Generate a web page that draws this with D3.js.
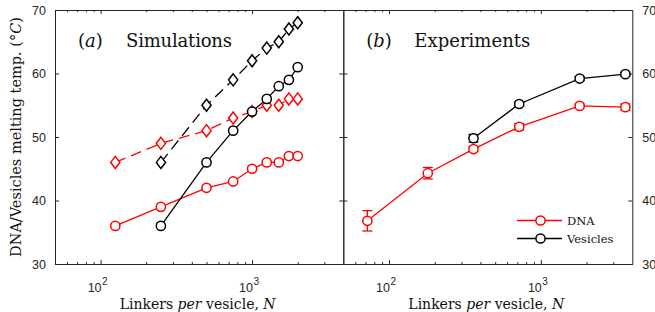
<!DOCTYPE html>
<html>
<head>
<meta charset="utf-8">
<script src="https://cdn.jsdelivr.net/npm/d3@7/dist/d3.min.js"></script>
<style>
  body { margin: 0; background: #fff; }
  svg { display: block; }
  .axis path, .axis line { stroke: #262626; stroke-width: 1; }
  .axis text { font-family: "Liberation Sans", Arial, sans-serif; font-size: 12.5px; fill: #262626; }
  .serif { font-family: "DejaVu Serif", serif; fill: #111; }
</style>
</head>
<body>
<div id="chart"></div>
<script>
// (a) Simulations
const simN = [125, 250, 500, 750, 1000, 1250, 1500, 1750, 2000];
const simDnaCircle = [36, 39, 42, 43, 45, 46, 46, 47, 47];
const simDnaDiamond = [46, 49, 51, 53, 54, 55, 55, 56, 56];
const simVesN = [250, 500, 750, 1000, 1250, 1500, 1750, 2000];
const simVesCircle = [36, 46, 51, 54, 56, 58, 59, 61];
const simVesDiamond = [46, 55, 59, 62, 64, 65, 67, 68];

// (b) Experiments
const expDnaN = [72, 180, 360, 720, 1800, 3600];
const expDna = [36.8, 44.3, 48.1, 51.6, 54.9, 54.7];
const expDnaErr = [1.6, 0.9, 0.4, 0.5, 0.3, 0.5];
const expVesN = [360, 720, 1800, 3600];
const expVes = [49.8, 55.2, 59.2, 59.9];
const expVesErr = [0.6, 0.3, 0.3, 0.3];

const yTicks = [30, 40, 50, 60, 70];
const xMajor = [100, 1000];
const xMinor = [60, 70, 80, 90, 200, 300, 400, 500, 600, 700, 800, 900, 2000, 3000];
const legendLabels = ["DNA", "Vesicles"];
const legendColors = ["#ff0000", "#000000"];

const W = 655, H = 312;
const plotTop = 10, plotBottom = 264;
const plotLeft = 55, plotMid = 343.3, plotRight = 632.3;

const svg = d3.select("#chart").append("svg")
  .attr("width", W)
  .attr("height", H);

const y = d3.scaleLinear()
  .domain([30, 70])
  .range([plotBottom, plotTop]);

const xa = d3.scaleLog().domain([50, 4000]).range([plotLeft, plotMid]);
const xb = d3.scaleLog().domain([50, 4000]).range([plotMid, plotRight]);

function serifText(sel) {
  return sel.append("text").attr("class", "serif");
}

function frame(x, x0, x1, labelLeft, labelRight) {
  const g = svg.append("g");

  // minor log ticks, top and bottom
  g.append("g").attr("class", "axis")
    .attr("transform", "translate(0," + plotBottom + ")")
    .call(d3.axisBottom(x).tickValues(xMinor).tickSize(-2).tickSizeOuter(0).tickFormat(""));
  g.append("g").attr("class", "axis")
    .attr("transform", "translate(0," + plotTop + ")")
    .call(d3.axisTop(x).tickValues(xMinor).tickSize(-2).tickSizeOuter(0).tickFormat(""));

  const bx = g.append("g").attr("class", "axis")
    .attr("transform", "translate(0," + plotBottom + ")")
    .call(d3.axisBottom(x).tickValues(xMajor).tickSize(-4).tickSizeOuter(0).tickFormat(""));
  g.append("g").attr("class", "axis")
    .attr("transform", "translate(0," + plotTop + ")")
    .call(d3.axisTop(x).tickValues(xMajor).tickSize(-4).tickSizeOuter(0).tickFormat(""));

  // 10^k labels, the "10" ends on the tick
  bx.selectAll(".tick text").remove();
  bx.selectAll(".tick").append("text")
    .attr("y", 28)
    .attr("x", 6.5)
    .attr("text-anchor", "end")
    .attr("fill", "#262626")
    .each(function (d) {
      const t = d3.select(this);
      t.append("tspan").text("10");
      t.append("tspan")
        .attr("dy", -7)
        .attr("dx", 0.5)
        .attr("font-size", "10px")
        .text(Math.round(Math.log10(d)));
    });

  g.append("g").attr("class", "axis")
    .attr("transform", "translate(" + x0 + ",0)")
    .call(d3.axisLeft(y).tickValues(yTicks).tickSize(-4).tickSizeOuter(0)
      .tickPadding(9).tickFormat(labelLeft ? d3.format("d") : ""));
  g.append("g").attr("class", "axis")
    .attr("transform", "translate(" + x1 + ",0)")
    .call(d3.axisRight(y).tickValues(yTicks).tickSize(-4).tickSizeOuter(0)
      .tickPadding(10).tickFormat(labelRight ? d3.format("d") : ""));
}

frame(xa, plotLeft, plotMid, true, false);
frame(xb, plotMid, plotRight, false, true);

function series(x, xs, ys, color, dashed, marker) {
  const pts = xs.map(function (n, i) { return [n, ys[i]]; });
  const line = d3.line()
    .x(function (d) { return x(d[0]); })
    .y(function (d) { return y(d[1]); });

  svg.append("path")
    .attr("d", line(pts))
    .attr("fill", "none")
    .attr("stroke", color)
    .attr("stroke-width", 1.3)
    .attr("stroke-dasharray", dashed ? "11,6" : null);

  const sym = marker === "diamond"
    ? "M0,-6L4.6,0L0,6L-4.6,0Z"
    : d3.symbol().type(d3.symbolCircle).size(Math.PI * 4.6 * 4.6)();

  svg.append("g").selectAll("path")
    .data(pts)
    .join("path")
      .attr("d", sym)
      .attr("transform", function (d) { return "translate(" + x(d[0]) + "," + y(d[1]) + ")"; })
      .attr("fill", "#fff")
      .attr("stroke", color)
      .attr("stroke-width", 1.5);
}

function errorBars(x, xs, ys, errs, color) {
  const g = svg.append("g")
    .attr("stroke", color)
    .attr("stroke-width", 1.3);
  xs.forEach(function (n, i) {
    const cx = x(n);
    const y0 = y(ys[i] - errs[i]), y1 = y(ys[i] + errs[i]);
    g.append("line").attr("x1", cx).attr("x2", cx).attr("y1", y0).attr("y2", y1);
    g.append("line").attr("x1", cx - 5).attr("x2", cx + 5).attr("y1", y0).attr("y2", y0);
    g.append("line").attr("x1", cx - 5).attr("x2", cx + 5).attr("y1", y1).attr("y2", y1);
  });
}

// panel (a)
series(xa, simN, simDnaDiamond, "#ff0000", true, "diamond");
series(xa, simVesN, simVesDiamond, "#000000", true, "diamond");
series(xa, simN, simDnaCircle, "#ff0000", false, "circle");
series(xa, simVesN, simVesCircle, "#000000", false, "circle");

// panel (b)
errorBars(xb, expDnaN, expDna, expDnaErr, "#ff0000");
errorBars(xb, expVesN, expVes, expVesErr, "#000000");
series(xb, expDnaN, expDna, "#ff0000", false, "circle");
series(xb, expVesN, expVes, "#000000", false, "circle");

// titles
function title(x0, letter, name, len) {
  const t = serifText(svg)
    .attr("y", 47)
    .attr("font-size", "18px");
  t.append("tspan").attr("x", x0).text("(");
  t.append("tspan").attr("font-style", "italic").text(letter);
  t.append("tspan").text(")");
  t.append("tspan").attr("x", x0 + 48).attr("textLength", len).text(name);
}
title(plotLeft + 23, "a", "Simulations", 106);
title(plotMid + 23, "b", "Experiments", 116);

// axis labels
[xa, xb].forEach(function (x) {
  const t = serifText(svg)
    .attr("x", x(Math.sqrt(50 * 4000)) - 1.5)
    .attr("y", 309)
    .attr("text-anchor", "middle")
    .attr("font-size", "14px");
  t.append("tspan").text("Linkers ");
  t.append("tspan").attr("font-style", "italic").text("per");
  t.append("tspan").text(" vesicle, ");
  t.append("tspan").attr("font-style", "italic").text("N");
});

const yl = serifText(svg)
  .attr("transform", "translate(21," + ((plotTop + plotBottom) / 2) + ") rotate(-90)")
  .attr("text-anchor", "middle")
  .attr("font-size", "14.5px");
yl.append("tspan").text("DNA/Vesicles melting temp. (°");
yl.append("tspan").attr("font-style", "italic").text("C");
yl.append("tspan").text(")");

// legend
const legend = svg.append("g");
legendLabels.forEach(function (label, i) {
  const ly = 220.5 + i * 18;
  legend.append("line")
    .attr("x1", 517).attr("x2", 562)
    .attr("y1", ly).attr("y2", ly)
    .attr("stroke", legendColors[i])
    .attr("stroke-width", 1.3);
  legend.append("circle")
    .attr("cx", 540.5)
    .attr("cy", ly)
    .attr("r", 4.6)
    .attr("fill", "#fff")
    .attr("stroke", legendColors[i])
    .attr("stroke-width", 1.5);
  serifText(legend)
    .attr("x", 567)
    .attr("y", ly + 4)
    .attr("font-size", "11.5px")
    .text(label);
});
</script>
</body>
</html>
